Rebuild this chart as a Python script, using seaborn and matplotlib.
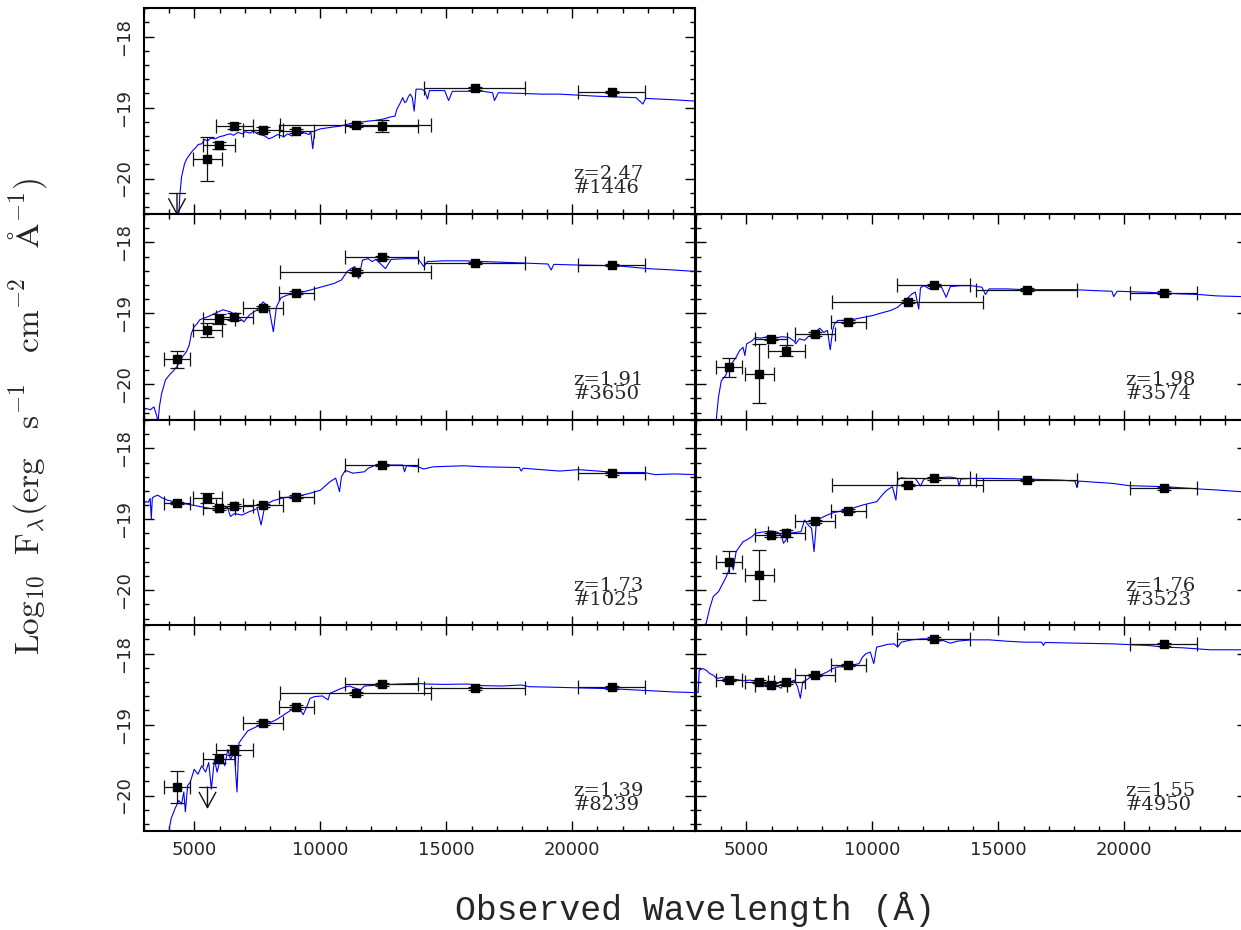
import matplotlib
matplotlib.use("Agg")
import matplotlib.pyplot as plt
import seaborn as sns
from matplotlib.ticker import MultipleLocator

# ---------------- filters (central wavelength, half width in Angstrom) -------------
filt_names = ['B', 'V', 'r', 'R', 'i', 'z', 'F110', 'J', 'H', 'K']
filt_lam = [4310, 5520, 5975, 6585, 7720, 9045, 11400, 12430, 16120, 21560]
filt_halfwidth = [510, 590, 620, 735, 780, 690, 2990, 1440, 2000, 1345]

# ---------------- object labels ----------------
obj_ids = ['1446', '3650', '3574', '1025', '3523', '8239', '4950']
obj_z = ['2.47', '1.91', '1.98', '1.73', '1.76', '1.39', '1.55']

# ---------------- photometry ----------------
phot_filt_1446 = ['V', 'r', 'R', 'i', 'z', 'F110', 'J', 'H', 'K']
phot_flux_1446 = [-19.72, -19.53, -19.26, -19.31, -19.33, -19.25, -19.26, -18.73, -18.78]
phot_err_1446 = [0.31, 0.05, 0.045, 0.03, 0.03, 0.03, 0.085, 0.02, 0.02]
ul_filt_1446 = ['B']
ul_flux_1446 = [-20.21]

phot_filt_3650 = ['B', 'V', 'r', 'R', 'i', 'z', 'F110', 'J', 'H', 'K']
phot_flux_3650 = [-19.65, -19.235, -19.08, -19.05, -18.93, -18.71, -18.415, -18.21, -18.29, -18.32]
phot_err_3650 = [0.12, 0.10, 0.07, 0.05, 0.03, 0.02, 0.02, 0.02, 0.02, 0.02]
ul_filt_3650 = []
ul_flux_3650 = []

phot_filt_3574 = ['B', 'V', 'r', 'R', 'i', 'z', 'F110', 'J', 'H', 'K']
phot_flux_3574 = [-19.76, -19.85, -19.36, -19.525, -19.29, -19.117, -18.835, -18.60, -18.67, -18.71]
phot_err_3574 = [0.135, 0.42, 0.02, 0.075, 0.03, 0.02, 0.02, 0.02, 0.02, 0.02]
ul_filt_3574 = []
ul_flux_3574 = []

phot_filt_1025 = ['B', 'V', 'r', 'R', 'i', 'z', 'J', 'K']
phot_flux_1025 = [-18.77, -18.70, -18.845, -18.81, -18.80, -18.68, -18.235, -18.35]
phot_err_1025 = [0.02, 0.065, 0.03, 0.03, 0.02, 0.02, 0.02, 0.02]
ul_filt_1025 = []
ul_flux_1025 = []

phot_filt_3523 = ['B', 'V', 'r', 'R', 'i', 'z', 'F110', 'J', 'H', 'K']
phot_flux_3523 = [-19.60, -19.785, -19.22, -19.20, -19.03, -18.88, -18.517, -18.42, -18.446, -18.56]
phot_err_3523 = [0.15, 0.35, 0.03, 0.05, 0.02, 0.02, 0.02, 0.02, 0.02, 0.02]
ul_filt_3523 = []
ul_flux_3523 = []

phot_filt_8239 = ['B', 'r', 'R', 'i', 'z', 'F110', 'J', 'H', 'K']
phot_flux_8239 = [-19.88, -19.48, -19.36, -18.98, -18.75, -18.56, -18.43, -18.49, -18.475]
phot_err_8239 = [0.23, 0.06, 0.07, 0.03, 0.03, 0.02, 0.02, 0.02, 0.02]
ul_filt_8239 = ['V']
ul_flux_8239 = [-19.88]

phot_filt_4950 = ['B', 'V', 'r', 'R', 'i', 'z', 'J', 'K']
phot_flux_4950 = [-18.372, -18.396, -18.44, -18.405, -18.30, -18.16, -17.79, -17.87]
phot_err_4950 = [0.02, 0.02, 0.02, 0.02, 0.02, 0.02, 0.02, 0.02]
ul_filt_4950 = []
ul_flux_4950 = []

# ---------------- model spectra (wavelength, log flux) ----------------
spec_lam_1446 = [4383, 4420, 4489, 4611, 4700, 4839, 4950, 5066, 5150, 5294, 5400, 5522, 5650, 5826, 6000, 6130,
                 6300, 6433, 6550, 6737, 6900, 7041, 7200, 7344, 7500, 7800, 7950, 8104, 8300, 8559, 8700, 8863,
                 9100, 9319, 9550, 9622, 9698, 9774, 10000, 10382, 10800, 11141, 11500, 11900, 12200, 12508,
                 12800, 12963, 13039, 13150, 13267, 13350, 13419, 13500, 13571, 13650, 13723, 13798, 14026,
                 14150, 14254, 14330, 14700, 14937, 15000, 15089, 15241, 16000, 16456, 16836, 16912, 17063,
                 17975, 18800, 19493, 21012, 22530, 22803, 22910, 24049, 24960]
spec_flux_1446 = [-20.50, -20.25, -19.98, -19.79, -19.72, -19.65, -19.60, -19.56, -19.52, -19.51, -19.45, -19.47,
                  -19.43, -19.44, -19.41, -19.40, -19.38, -19.37, -19.39, -19.35, -19.37, -19.34, -19.36, -19.33,
                  -19.37, -19.40, -19.44, -19.42, -19.38, -19.41, -19.37, -19.40, -19.36, -19.35, -19.38, -19.34,
                  -19.58, -19.33, -19.30, -19.28, -19.26, -19.23, -19.21, -19.19, -19.18, -19.16, -19.13, -19.12,
                  -19.02, -18.95, -18.86, -18.93, -18.91, -18.84, -18.81, -18.86, -19.05, -18.74, -18.74, -18.77,
                  -18.88, -18.76, -18.76, -18.76, -18.82, -18.90, -18.77, -18.77, -18.77, -18.79, -18.90, -18.79,
                  -18.80, -18.81, -18.81, -18.84, -18.86, -18.95, -18.87, -18.89, -18.91]

spec_lam_3650 = [3000, 3062, 3244, 3396, 3518, 3548, 3620, 3700, 3852, 4003, 4150, 4307, 4535, 4687, 4793, 4884,
                 4991, 5100, 5218, 5522, 5826, 6130, 6433, 6737, 6965, 7193, 7496, 7724, 7952, 8134, 8256, 8438,
                 8711, 9167, 9622, 10078, 10533, 10837, 11065, 11217, 11369, 11521, 11672, 11900, 12052, 12204,
                 12584, 12811, 13419, 13874, 14102, 14254, 14937, 15697, 16456, 17975, 19038, 19159, 19265,
                 20253, 21771, 22986, 24049, 24884]
spec_flux_3650 = [-20.38, -20.34, -20.36, -20.32, -20.46, -20.55, -20.30, -20.13, -19.94, -19.87, -19.82, -19.75,
                  -19.61, -19.54, -19.45, -19.28, -19.19, -19.15, -19.09, -19.05, -19.00, -18.95, -18.98, -19.05,
                  -19.12, -19.02, -18.95, -18.84, -18.91, -19.26, -18.91, -18.78, -18.74, -18.71, -18.67, -18.625,
                  -18.58, -18.53, -18.41, -18.37, -18.34, -18.51, -18.25, -18.23, -18.27, -18.24, -18.37, -18.24,
                  -18.23, -18.23, -18.34, -18.27, -18.26, -18.26, -18.27, -18.29, -18.305, -18.39, -18.31, -18.32,
                  -18.33, -18.37, -18.39, -18.41]

spec_lam_3574 = [3800, 3824, 3893, 4005, 4172, 4312, 4451, 4591, 4730, 4869, 4939, 5009, 5218, 5357, 5567, 5845,
                 6124, 6403, 6682, 6891, 6961, 7100, 7309, 7449, 7658, 7909, 8076, 8216, 8327, 8425, 8495, 8634,
                 8913, 9331, 9750, 10028, 10307, 10726, 11004, 11144, 11353, 11562, 11702, 11841, 11911, 12050,
                 12259, 12399, 12747, 12929, 13096, 13514, 13932, 14351, 14490, 14630, 15327, 16024, 16721,
                 17976, 18812, 19510, 19579, 19719, 20904, 22298, 22995, 23693, 24641, 24900]
spec_flux_3574 = [-20.55, -20.42, -20.18, -19.95, -19.88, -19.76, -19.69, -19.62, -19.525, -19.48, -19.595, -19.43,
                  -19.39, -19.34, -19.35, -19.33, -19.35, -19.33, -19.34, -19.39, -19.43, -19.36, -19.38, -19.33,
                  -19.30, -19.21, -19.27, -19.24, -19.515, -19.24, -19.15, -19.10, -19.10, -19.08, -19.05, -19.03,
                  -19.00, -18.96, -18.915, -18.87, -18.80, -18.73, -18.70, -18.94, -18.64, -18.61, -18.656, -18.61,
                  -18.633, -18.774, -18.623, -18.61, -18.61, -18.633, -18.736, -18.656, -18.656, -18.666, -18.666,
                  -18.666, -18.68, -18.689, -18.764, -18.689, -18.703, -18.727, -18.736, -18.755, -18.764, -18.766]

spec_lam_1025 = [3000, 3062, 3168, 3244, 3290, 3330, 3396, 3548, 3700, 3928, 4307, 4763, 5218, 5674, 6130, 6300,
                 6433, 6585, 6889, 7193, 7496, 7648, 7800, 8104, 8559, 9167, 9622, 10002, 10382, 10609, 10761,
                 10837, 10989, 11293, 11748, 11900, 12204, 12811, 13267, 13343, 13419, 13874, 14102, 14482,
                 15697, 16456, 17898, 17975, 18050, 19493, 20253, 21771, 22834, 23290, 24049, 24884]
spec_flux_1025 = [-18.78, -18.75, -18.76, -18.705, -18.99, -18.70, -18.68, -18.66, -18.695, -18.73, -18.76, -18.79,
                  -18.82, -18.85, -18.87, -18.82, -18.96, -18.92, -18.94, -18.89, -18.85, -19.08, -18.80, -18.74,
                  -18.695, -18.67, -18.63, -18.59, -18.47, -18.42, -18.61, -18.40, -18.31, -18.35, -18.33, -18.28,
                  -18.235, -18.235, -18.235, -18.33, -18.245, -18.26, -18.29, -18.26, -18.245, -18.26, -18.27,
                  -18.32, -18.28, -18.32, -18.30, -18.34, -18.34, -18.37, -18.36, -18.37]

spec_lam_3523 = [3150, 3405, 3545, 3684, 3893, 4033, 4172, 4284, 4381, 4479, 4591, 4730, 4869, 5009, 5218, 5357,
                 5567, 5776, 5985, 6264, 6403, 6473, 6570, 6682, 6961, 7170, 7309, 7449, 7588, 7686, 7770, 7937,
                 8216, 8495, 8773, 9192, 9610, 9889, 10168, 10447, 10586, 10795, 10935, 11004, 11144, 11353,
                 11702, 11911, 12050, 12538, 13096, 13375, 13444, 13514, 13932, 14630, 16024, 17418, 18044,
                 18115, 18185, 19510, 20207, 21601, 22995, 23693, 24641, 24900]
spec_flux_3523 = [-20.55, -20.465, -20.254, -20.09, -20.02, -19.925, -19.831, -19.738, -19.573, -19.714, -19.456,
                  -19.385, -19.315, -19.292, -19.245, -19.198, -19.184, -19.174, -19.165, -19.184, -19.245, -19.338,
                  -19.292, -19.198, -19.184, -19.174, -19.01, -19.08, -19.127, -19.456, -19.08, -18.986, -18.939,
                  -18.902, -18.883, -18.846, -18.799, -18.775, -18.752, -18.634, -18.587, -18.54, -18.728, -18.446,
                  -18.414, -18.423, -18.423, -18.531, -18.432, -18.414, -18.404, -18.423, -18.531, -18.432, -18.423,
                  -18.423, -18.432, -18.446, -18.461, -18.55, -18.461, -18.493, -18.526, -18.54, -18.573, -18.587,
                  -18.611, -18.612]

spec_lam_8239 = [4003, 4079, 4231, 4383, 4489, 4581, 4641, 4732, 4839, 4991, 5142, 5294, 5446, 5568, 5674, 5795,
                 5902, 6054, 6205, 6327, 6433, 6585, 6691, 6767, 6965, 7117, 7344, 7648, 7952, 8256, 8559, 8863,
                 9167, 9319, 9470, 9592, 9774, 10078, 10306, 10382, 10837, 11141, 11596, 11748, 12356, 13115,
                 13874, 14178, 14937, 15849, 16456, 17215, 17975, 18278, 19493, 21012, 21771, 22530, 23290,
                 24049, 24884]
spec_flux_8239 = [-20.465, -20.325, -20.185, -20.07, -20.12, -19.95, -20.23, -19.86, -19.81, -19.63, -19.70, -19.58,
                  -19.67, -19.535, -19.91, -19.49, -19.67, -19.44, -19.58, -19.35, -19.49, -19.395, -19.95, -19.26,
                  -19.16, -19.09, -19.05, -19.00, -18.98, -18.93, -18.86, -18.79, -18.77, -18.86, -18.74, -18.63,
                  -18.605, -18.596, -18.651, -18.558, -18.489, -18.456, -18.512, -18.456, -18.442, -18.428, -18.419,
                  -18.428, -18.433, -18.428, -18.451, -18.456, -18.442, -18.465, -18.475, -18.489, -18.498, -18.512,
                  -18.526, -18.54, -18.549]

spec_lam_4950 = [2987, 3085, 3127, 3266, 3405, 3545, 3684, 3824, 4033, 4312, 4591, 4869, 5148, 5427, 5706, 5915,
                 6055, 6194, 6375, 6515, 6682, 6891, 7031, 7142, 7240, 7379, 7658, 7937, 8216, 8425, 8634, 8913,
                 9192, 9471, 9610, 9750, 9917, 10056, 10168, 10447, 10586, 10865, 11004, 11144, 11562, 11980,
                 12399, 12538, 12817, 13096, 13375, 13932, 14630, 15327, 16024, 16721, 16791, 16860, 18115,
                 19510, 20904, 21601, 22298, 23414, 24641]
spec_flux_4950 = [-18.535, -18.549, -18.233, -18.21, -18.233, -18.28, -18.303, -18.349, -18.335, -18.372, -18.363,
                  -18.382, -18.372, -18.396, -18.419, -18.465, -18.512, -18.442, -18.489, -18.396, -18.419, -18.372,
                  -18.465, -18.628, -18.396, -18.372, -18.303, -18.303, -18.256, -18.21, -18.186, -18.186, -18.163,
                  -18.14, -18.047, -18.0, -17.977, -18.14, -17.908, -17.884, -17.87, -17.861, -17.908, -17.838,
                  -17.805, -17.791, -17.791, -17.824, -17.815, -17.852, -17.824, -17.805, -17.805, -17.824, -17.838,
                  -17.838, -17.884, -17.842, -17.852, -17.861, -17.884, -17.908, -17.917, -17.945, -17.945]

# ---------------- assemble panels ----------------
panels = {
    '1446': (0, 0, phot_filt_1446, phot_flux_1446, phot_err_1446, ul_filt_1446, ul_flux_1446, spec_lam_1446, spec_flux_1446),
    '3650': (1, 0, phot_filt_3650, phot_flux_3650, phot_err_3650, ul_filt_3650, ul_flux_3650, spec_lam_3650, spec_flux_3650),
    '3574': (1, 1, phot_filt_3574, phot_flux_3574, phot_err_3574, ul_filt_3574, ul_flux_3574, spec_lam_3574, spec_flux_3574),
    '1025': (2, 0, phot_filt_1025, phot_flux_1025, phot_err_1025, ul_filt_1025, ul_flux_1025, spec_lam_1025, spec_flux_1025),
    '3523': (2, 1, phot_filt_3523, phot_flux_3523, phot_err_3523, ul_filt_3523, ul_flux_3523, spec_lam_3523, spec_flux_3523),
    '8239': (3, 0, phot_filt_8239, phot_flux_8239, phot_err_8239, ul_filt_8239, ul_flux_8239, spec_lam_8239, spec_flux_8239),
    '4950': (3, 1, phot_filt_4950, phot_flux_4950, phot_err_4950, ul_filt_4950, ul_flux_4950, spec_lam_4950, spec_flux_4950),
}
filt_lookup = {n: (l, w) for n, l, w in zip(filt_names, filt_lam, filt_halfwidth)}

sns.set_theme(style="ticks")
plt.rcParams['font.family'] = ['DejaVu Sans']
plt.rcParams['mathtext.fontset'] = 'cm'
plt.rcParams['axes.linewidth'] = 1.5

W, H = 1241, 930
fig = plt.figure(figsize=(W / 100, H / 100), dpi=100)
fig.patch.set_facecolor('white')

col_left = [144 / W, 696 / W]
ax_w = 551 / W
row_top = [8.3, 214.0, 420.0, 625.3]
ax_h = 205.7 / H

for oid, z in zip(obj_ids, obj_z):
    row, col, pf, pflux, perr, ulf, ulflux, slam, sflux = panels[oid]
    bottom = 1 - (row_top[row] + 205.7) / H
    ax = fig.add_axes([col_left[col], bottom, ax_w, ax_h])
    ax.set_facecolor('white')

    sns.lineplot(x=slam, y=sflux, ax=ax, color='#0000ff', linewidth=0.8,
                 sort=False, estimator=None, zorder=2)

    px = [filt_lookup[f][0] for f in pf]
    pxe = [filt_lookup[f][1] for f in pf]
    ax.errorbar(px, pflux, xerr=pxe, yerr=perr, fmt='s', ms=5.5, color='black',
                ecolor='#111111', elinewidth=0.9, capsize=4.7, capthick=0.9, zorder=3)

    for f, v in zip(ulf, ulflux):
        lx = filt_lookup[f][0]
        ax.plot([lx - 320, lx + 320], [v, v], color='#111111', lw=0.9, zorder=3)
        ax.annotate('', xy=(lx, v - 0.31), xytext=(lx, v),
                    arrowprops=dict(arrowstyle='->,head_length=0.55,head_width=0.3',
                                    color='#111111', lw=1.0, mutation_scale=20,
                                    shrinkA=0, shrinkB=0),
                    annotation_clip=False, zorder=3)

    ax.set_xlim(3000, 24870)
    ax.set_ylim(-20.5, -17.6)
    ax.xaxis.set_major_locator(MultipleLocator(5000))
    ax.xaxis.set_minor_locator(MultipleLocator(1000))
    ax.yaxis.set_major_locator(MultipleLocator(1))
    ax.yaxis.set_minor_locator(MultipleLocator(0.2))
    ax.tick_params(which='both', direction='in', top=True, right=True,
                   bottom=True, left=True, color='black', width=1.0,
                   labelsize=13, pad=7.5)
    ax.tick_params(which='major', length=7.5)
    ax.tick_params(which='minor', length=3.6)
    ax.set_xlabel('')
    ax.set_ylabel('')
    for s in ax.spines.values():
        s.set_linewidth(1.5)
        s.set_color('black')

    if col == 0:
        for lab in ax.get_yticklabels():
            lab.set_rotation(90)
            lab.set_va('center')
    else:
        ax.tick_params(axis='y', labelleft=False)
    if row != 3:
        ax.tick_params(axis='x', labelbottom=False)

    ax.text(0.779, 0.083, 'z=' + z + '\n#' + oid, transform=ax.transAxes,
            family='DejaVu Serif', fontsize=14, ha='left', va='bottom',
            linespacing=0.68)

fig.text(0.0218, 0.552,
         r'$\mathrm{Log_{10}\ \ F_{\lambda}(erg\ \ \ s^{-1}\ \ \ cm^{-2}\ \ \ \AA^{-1})}$',
         rotation=90, ha='center', va='center', fontsize=24)
fig.text(0.560, 0.022, 'Observed Wavelength (Å)', family='Liberation Mono',
         fontsize=25, ha='center', va='center')

fig.savefig('out.png', dpi=100, facecolor='white')
